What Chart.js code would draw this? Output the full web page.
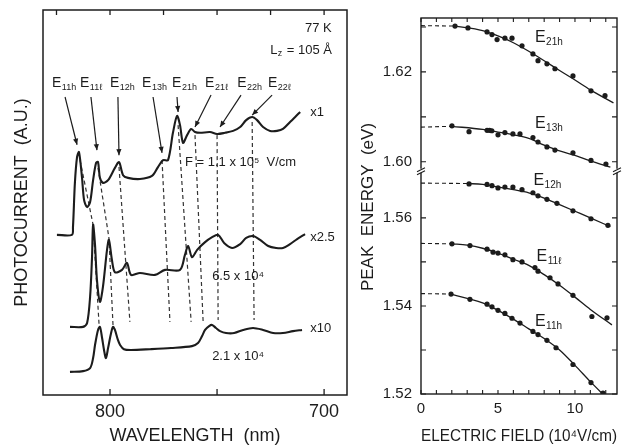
<!DOCTYPE html>
<html><head><meta charset="utf-8">
<script src="https://cdn.jsdelivr.net/npm/chart.js@4.4.0/dist/chart.umd.min.js"></script>
<style>
html,body{margin:0;padding:0;background:#fff;}
#wrap{position:relative;width:624px;height:447px;overflow:hidden;background:#fff;}
#c1{position:absolute;left:0;top:0;}
#c2{position:absolute;left:340px;top:0;}
</style></head><body>
<div id="wrap"><canvas id="c1" width="352" height="447"></canvas><canvas id="c2" width="284" height="447"></canvas></div>
<script>
// ---------- LEFT PANEL DATA (wavelength nm, photocurrent a.u.) ----------
const c1Wl = [824.8,817.8,817.3,816.4,815.4,814.5,813.1,812.1,810.7,809.3,807.9,806.5,805.6,804.7,803.3,800.9,797.7,795.8,793.9,791.6,786.0,780.4,777.6,775.2,772.9,770.6,768.7,767.3,765.9,764.0,762.1,760.3,757.9,753.3,750.0,746.3,742.5,739.2,736.4,733.6,731.3,728.5,725.2,722.0,719.2,715.9,713.5,711.2];
const c1Au = [41.6,41.6,43.6,55.1,61.8,63.1,56.6,50.6,48.8,50.1,55.8,60.3,60.5,56.4,55.1,55.8,59.0,60.5,57.1,56.4,56.1,56.9,59.2,61.0,61.0,68.1,72.5,70.1,65.5,67.5,69.1,68.3,68.1,68.3,67.8,68.1,68.6,69.6,71.4,72.2,71.4,69.6,68.6,68.6,69.1,70.9,72.2,73.5];
const c2Wl = [818.7,812.6,810.7,809.3,808.4,807.9,807.0,806.1,804.7,803.3,801.4,800.5,799.1,797.7,794.4,792.1,790.2,786.0,779.0,774.3,767.3,765.0,763.5,761.7,759.3,755.6,752.3,749.5,746.7,743.0,739.2,736.4,733.2,729.9,726.1,722.4,719.2,715.9,712.6,708.9];
const c2Au = [17.7,17.7,18.7,25.5,35.8,44.2,39.0,29.9,24.2,28.1,37.7,40.3,35.1,31.9,32.5,34.3,31.2,31.7,31.2,32.5,32.5,36.4,38.7,35.8,37.7,39.7,41.0,41.6,39.5,38.2,39.2,40.8,41.3,40.3,38.7,38.2,38.2,39.2,40.5,41.8];
const c3Wl = [818.7,812.6,809.3,807.9,807.0,805.6,804.7,803.7,802.8,801.9,800.9,799.5,798.6,797.7,796.3,795.3,793.5,790.2,781.3,771.5,761.7,758.9,757.0,755.6,753.7,752.3,750.5,748.6,745.8,742.0,737.8,733.2,728.5,723.8,719.2,714.5,710.3];
const c3Au = [6.0,6.2,7.0,9.6,13.0,16.9,17.7,14.8,11.7,9.6,12.2,16.1,17.7,16.9,14.3,13.0,11.9,11.7,11.9,12.2,12.7,13.5,15.3,16.9,17.9,18.2,17.4,16.6,16.1,16.1,16.9,17.4,16.9,16.1,16.1,16.6,16.9];

// dashed guide lines linking peaks (wavelength, a.u.)
const guideWl = [[814.0,807.9,805.1],[805.6,800.5,798.6],[795.8,790.7],[775.7,772.0],[768.2,762.1],[760.3,756.5],[750.0,749.5],[733.6,732.7]];
const guideAu = [[61.0,44.2,18.2],[59.0,40.8,18.2],[59.2,19.0],[61.0,19.0],[70.1,19.0],[67.5,19.0],[67.5,19.5],[70.9,19.5]];

// peak labels and arrows
const peakSubs  = ['11h','11ℓ','12h','13h','21h','21ℓ','22h','22ℓ'];
const peakLabWl = [827.1,814.0,800.0,785.0,771.0,755.6,740.6,726.2];
const peakLabAu = 81.0;
const arrowFromWl = [821.0,808.9,796.3,779.9,768.7,752.8,738.8,724.3];
const arrowFromAu = [77.4,77.4,77.4,77.4,77.4,77.9,77.9,77.9];
const arrowToWl   = [815.4,806.1,795.8,775.7,768.2,760.3,748.6,733.6];
const arrowToAu   = [65.0,63.6,62.3,62.9,73.5,69.6,69.6,72.7];

const waveTicks = [700,725,750,775,800,825];
const waveLabels = [700,800];
const waveBottomTicks = [700,750,800];

// ---------- RIGHT PANEL DATA (field 1e4 V/cm, peak energy eV) ----------
const e21hF = [2.21,3.05,4.29,4.61,4.94,5.45,5.91,6.56,7.27,7.60,8.18,8.70,9.87,11.04,11.95];
const e21hE = [1.6302,1.6298,1.6289,1.6283,1.6272,1.6275,1.6275,1.6258,1.6240,1.6225,1.6218,1.6207,1.6191,1.6158,1.6147];
const e13hF = [2.01,3.12,4.29,4.45,4.60,5.00,5.45,5.97,6.43,7.27,7.60,8.18,8.70,9.87,11.04,12.01];
const e13hE = [1.6080,1.6067,1.6070,1.6070,1.6069,1.6060,1.6065,1.6062,1.6062,1.6054,1.6044,1.6033,1.6026,1.6020,1.6003,1.5995];
const e12hF = [3.12,4.29,4.61,5.00,5.45,5.97,6.56,7.27,7.60,8.18,8.83,9.87,11.04,12.14];
const e12hE = [1.5677,1.5676,1.5673,1.5668,1.5670,1.5670,1.5664,1.5657,1.5650,1.5642,1.5633,1.5616,1.5598,1.5583];
const e11lF = [2.01,3.18,4.29,4.68,5.00,5.45,5.97,6.56,7.40,7.60,8.38,8.90,9.87,11.10,12.08];
const e11lE = [1.5541,1.5537,1.5529,1.5522,1.5520,1.5516,1.5505,1.5500,1.5487,1.5479,1.5464,1.5450,1.5424,1.5376,1.5373];
const e11hF = [1.95,3.18,4.29,4.61,5.00,5.45,5.91,6.43,7.27,7.60,8.18,8.77,9.87,11.04,11.82];
const e11hE = [1.5427,1.5415,1.5404,1.5398,1.5390,1.5383,1.5372,1.5361,1.5342,1.5335,1.5322,1.5305,1.5267,1.5226,1.5202];

// drawn fit curves (dashed extrapolation to zero field + solid fit)
const fit21hF = [2.2,4,5,6,7,8,9,10,11,12.5];
const fit21hE = [1.6302,1.6292,1.6280,1.6265,1.6246,1.6225,1.6203,1.6182,1.6160,1.6131];
const fit13hF = [2.0,4,5,6,7,8,9,10,11,12.3];
const fit13hE = [1.6079,1.6072,1.6066,1.6060,1.6052,1.6037,1.6024,1.6014,1.6002,1.5988];
const fit12hF = [3.0,4,5,6,7,8,9,10,11,12.3];
const fit12hE = [1.5678,1.5676,1.5670,1.5664,1.5657,1.5645,1.5630,1.5615,1.5600,1.5580];
const fit11lF = [2.0,3,4,5,6,7,8,9,10,11,12.4];
const fit11lE = [1.5541,1.5538,1.5531,1.5520,1.5506,1.5492,1.5471,1.5447,1.5420,1.5392,1.5357];
const fit11hF = [1.95,3,4,5,6,7,8,9,10,11,12.0];
const fit11hE = [1.5427,1.5417,1.5407,1.5390,1.5370,1.5348,1.5326,1.5300,1.5265,1.5228,1.5193];
const dash21h = [[0,2.2],[1.6303,1.6302]];
const dash13h = [[0,2.0],[1.6077,1.6079]];
const dash12h = [[0,3.0],[1.5679,1.5678]];
const dash11l = [[0,2.0],[1.5542,1.5541]];
const dash11h = [[0,1.95],[1.5428,1.5427]];

const fieldTicks = [0,1,2,3,4,5,6,7,8,9,10,11,12];
const fieldLabels = [0,5,10];
const lowTicks = [1.52,1.53,1.54,1.55,1.56];
const lowLabels = ['1.52','','1.54','','1.56'];
const highTicks = [1.60,1.61,1.62,1.63];
const highLabels = ['1.60','','1.62',''];

const rightLabSubs = ['21h','13h','12h','11ℓ','11h'];
const rightLabF = [7.4,7.4,7.3,7.5,7.4];
const rightLabE = [1.6276,1.6086,1.5684,1.5513,1.5364];
const rightLabAxis = ['yHigh','yHigh','yLow','yLow','yLow'];

// ---------- helpers ----------
const INK = '#1c1c1c';
const FONT = "'Liberation Sans', Arial, sans-serif";
const pts = (xs, ys) => xs.map((x, i) => ({x, y: ys[i]}));

function drawSub(ctx, x, y, main, sub, size, subSize) {
  ctx.textBaseline = 'middle';
  ctx.textAlign = 'left';
  ctx.font = size + 'px ' + FONT;
  ctx.fillText(main, x, y);
  const w = ctx.measureText(main).width;
  ctx.font = subSize + 'px ' + FONT;
  ctx.fillText(sub, x + w + 0.5, y + size * 0.3);
}

function tickMarks(ctx, scale, values, len, sideA, sideB, horizontal) {
  values.forEach(v => {
    const p = scale.getPixelForValue(v);
    ctx.beginPath();
    if (horizontal) {
      if (sideA !== null) { ctx.moveTo(p, sideA); ctx.lineTo(p, sideA - len); }
      if (sideB !== null) { ctx.moveTo(p, sideB); ctx.lineTo(p, sideB + len); }
    } else {
      if (sideA !== null) { ctx.moveTo(sideA, p); ctx.lineTo(sideA + len, p); }
      if (sideB !== null) { ctx.moveTo(sideB, p); ctx.lineTo(sideB - len, p); }
    }
    ctx.stroke();
  });
}

// ---------- LEFT CHART ----------
const leftDeco = {
  id: 'leftDeco',
  afterDatasetsDraw(chart) {
    const {ctx, chartArea: a, scales: {x, y}} = chart;
    ctx.save();
    ctx.strokeStyle = INK; ctx.fillStyle = INK; ctx.lineWidth = 1.5;
    ctx.strokeRect(a.left, a.top, a.right - a.left, a.bottom - a.top);
    ctx.lineWidth = 1.3;
    tickMarks(ctx, x, waveBottomTicks, 6, a.bottom, null, true);
    tickMarks(ctx, x, waveTicks, 5, null, a.top, true);
    // arrows
    ctx.lineWidth = 1.2;
    arrowFromWl.forEach((w, i) => {
      const x0 = x.getPixelForValue(w), y0 = y.getPixelForValue(arrowFromAu[i]);
      const x1 = x.getPixelForValue(arrowToWl[i]), y1 = y.getPixelForValue(arrowToAu[i]);
      ctx.beginPath(); ctx.moveTo(x0, y0); ctx.lineTo(x1, y1); ctx.stroke();
      const ang = Math.atan2(y1 - y0, x1 - x0), L = 6, W = 2.6;
      ctx.beginPath();
      ctx.moveTo(x1, y1);
      ctx.lineTo(x1 - L * Math.cos(ang) + W * Math.sin(ang), y1 - L * Math.sin(ang) - W * Math.cos(ang));
      ctx.lineTo(x1 - L * Math.cos(ang) - W * Math.sin(ang), y1 - L * Math.sin(ang) + W * Math.cos(ang));
      ctx.closePath(); ctx.fill();
    });
    // peak labels
    peakSubs.forEach((s, i) => {
      drawSub(ctx, x.getPixelForValue(peakLabWl[i]), y.getPixelForValue(peakLabAu), 'E', s, 14, 9);
    });
    // texts
    ctx.textBaseline = 'middle'; ctx.textAlign = 'left';
    ctx.font = '13px ' + FONT;
    ctx.fillText('x1', x.getPixelForValue(706.5), y.getPixelForValue(73.5));
    ctx.fillText('x2.5', x.getPixelForValue(706.5), y.getPixelForValue(41.0));
    ctx.fillText('x10', x.getPixelForValue(706.5), y.getPixelForValue(17.4));
    ctx.fillText('F = 1.1 x 10⁵  V/cm', x.getPixelForValue(765.0), y.getPixelForValue(60.3));
    ctx.fillText('6.5 x 10⁴', x.getPixelForValue(752.3), y.getPixelForValue(30.9));
    ctx.fillText('2.1 x 10⁴', x.getPixelForValue(752.3), y.getPixelForValue(9.9));
    ctx.fillText('77 K', x.getPixelForValue(708.9), y.getPixelForValue(95.3));
    drawSub(ctx, x.getPixelForValue(725.2), y.getPixelForValue(89.6), 'L', 'z', 13, 9);
    ctx.font = '13px ' + FONT;
    ctx.fillText(' = 105 Å', x.getPixelForValue(725.2) + 13, y.getPixelForValue(89.6));
    ctx.restore();
  }
};

const curveStyle = {borderColor: INK, borderWidth: 2.1, pointRadius: 0, tension: 0.3, fill: false};
const leftSets = [
  Object.assign({data: pts(c1Wl, c1Au)}, curveStyle),
  Object.assign({data: pts(c2Wl, c2Au)}, curveStyle),
  Object.assign({data: pts(c3Wl, c3Au)}, curveStyle)
];
guideWl.forEach((g, i) => leftSets.push({
  data: pts(g, guideAu[i]), borderColor: '#333', borderWidth: 1.2, borderDash: [4, 3],
  pointRadius: 0, tension: 0, fill: false
}));

new Chart(document.getElementById('c1'), {
  type: 'line',
  data: {datasets: leftSets},
  options: {
    responsive: false, animation: false, devicePixelRatio: 1,
    layout: {padding: {top: 10, right: 5, left: 0, bottom: 0}},
    plugins: {legend: {display: false}, tooltip: {enabled: false}},
    scales: {
      x: {
        type: 'linear', reverse: true, min: 689.3, max: 831.3,
        grid: {display: false, drawTicks: false}, border: {display: false},
        afterBuildTicks: s => { s.ticks = waveTicks.map(v => ({value: v})); },
        afterFit: s => { s.height = 52; },
        ticks: {autoSkip: false, maxRotation: 0, padding: 6, color: INK, font: {family: FONT, size: 18},
          callback: v => waveLabels.includes(v) ? String(v) : ''},
        title: {display: true, text: 'WAVELENGTH  (nm)', color: INK, font: {family: FONT, size: 18}, padding: {top: 0, bottom: 0}}
      },
      y: {
        type: 'linear', min: 0, max: 100,
        grid: {display: false, drawTicks: false}, border: {display: false},
        ticks: {display: false},
        afterFit: s => { s.width = 43; },
        title: {display: true, text: 'PHOTOCURRENT  (A.U.)', color: INK, font: {family: FONT, size: 18}, padding: {top: 11, bottom: 0}}
      }
    }
  },
  plugins: [leftDeco]
});

// ---------- RIGHT CHART ----------
const rightDeco = {
  id: 'rightDeco',
  afterDatasetsDraw(chart) {
    const {ctx, chartArea: a, scales} = chart;
    const x = scales.x, yl = scales.yLow, yh = scales.yHigh;
    ctx.save();
    ctx.strokeStyle = INK; ctx.fillStyle = INK; ctx.lineWidth = 1.4;
    ctx.strokeRect(a.left, a.top, a.right - a.left, a.bottom - a.top);
    ctx.lineWidth = 1.1;
    tickMarks(ctx, x, fieldTicks, 4, a.bottom, a.top, true);
    tickMarks(ctx, yl, lowTicks, 5, a.left, a.right, false);
    tickMarks(ctx, yh, highTicks, 5, a.left, a.right, false);
    // axis break marks
    const yb = yl.top;
    [a.left, a.right].forEach(xx => {
      ctx.fillStyle = '#fff';
      ctx.fillRect(xx - 3, yb - 2, 6, 4);
      ctx.fillStyle = INK;
      ctx.beginPath();
      ctx.moveTo(xx - 4, yb + 1); ctx.lineTo(xx + 4, yb - 3);
      ctx.moveTo(xx - 4, yb + 4); ctx.lineTo(xx + 4, yb);
      ctx.stroke();
    });
    // curve labels
    rightLabSubs.forEach((s, i) => {
      const sc = rightLabAxis[i] === 'yHigh' ? yh : yl;
      drawSub(ctx, x.getPixelForValue(rightLabF[i]), sc.getPixelForValue(rightLabE[i]), 'E', s, 16, 10);
    });
    // y-axis title (spans both stacked axes)
    ctx.save();
    ctx.translate(28, 207);
    ctx.rotate(-Math.PI / 2);
    ctx.textAlign = 'center'; ctx.textBaseline = 'middle';
    ctx.font = '17px ' + FONT;
    ctx.fillText('PEAK  ENERGY  (eV)', 0, 0);
    ctx.restore();
    ctx.restore();
  }
};

const rightSets = [];
function addSeries(dash, fitF, fitE, pF, pE, axis) {
  rightSets.push({type: 'line', data: pts(dash[0], dash[1]), yAxisID: axis, borderColor: INK, borderWidth: 1.1,
    borderDash: [4, 3], pointRadius: 0, tension: 0, fill: false});
  rightSets.push({type: 'line', data: pts(fitF, fitE), yAxisID: axis, borderColor: INK, borderWidth: 1.3,
    pointRadius: 0, tension: 0.4, cubicInterpolationMode: 'monotone', fill: false});
  rightSets.push({type: 'line', data: pts(pF, pE), yAxisID: axis, showLine: false, pointRadius: 2.6,
    pointBackgroundColor: INK, pointBorderColor: INK, pointBorderWidth: 0});
}
addSeries(dash21h, fit21hF, fit21hE, e21hF, e21hE, 'yHigh');
addSeries(dash13h, fit13hF, fit13hE, e13hF, e13hE, 'yHigh');
addSeries(dash12h, fit12hF, fit12hE, e12hF, e12hE, 'yLow');
addSeries(dash11l, fit11lF, fit11lE, e11lF, e11lE, 'yLow');
addSeries(dash11h, fit11hF, fit11hE, e11hF, e11hE, 'yLow');

const yTickFont = {family: FONT, size: 15};
new Chart(document.getElementById('c2'), {
  type: 'line',
  data: {datasets: rightSets},
  options: {
    responsive: false, animation: false, devicePixelRatio: 1,
    layout: {padding: {top: 10, right: 7, left: 0, bottom: 0}},
    plugins: {legend: {display: false}, tooltip: {enabled: false}},
    scales: {
      x: {
        type: 'linear', min: 0, max: 12.73,
        grid: {display: false, drawTicks: false}, border: {display: false},
        afterBuildTicks: s => { s.ticks = fieldTicks.map(v => ({value: v})); },
        afterFit: s => { s.height = 53; },
        ticks: {autoSkip: false, maxRotation: 0, padding: 6, color: INK, font: {family: FONT, size: 15},
          callback: v => fieldLabels.includes(v) ? String(v) : ''},
        title: {display: true, text: 'ELECTRIC FIELD (10⁴V/cm)', color: INK, font: {family: FONT, size: 16}, padding: {top: 0, bottom: 1}}
      },
      yLow: {
        type: 'linear', position: 'left', stack: 'energy', stackWeight: 228, min: 1.52, max: 1.5707,
        grid: {display: false, drawTicks: false}, border: {display: false},
        afterBuildTicks: s => { s.ticks = lowTicks.map(v => ({value: v})); },
        afterFit: s => { s.width = 81; },
        ticks: {autoSkip: false, padding: 9, color: INK, font: yTickFont, callback: (v, i) => lowLabels[i]}
      },
      yHigh: {
        type: 'linear', position: 'left', stack: 'energy', stackWeight: 156, min: 1.5980, max: 1.632,
        grid: {display: false, drawTicks: false}, border: {display: false},
        afterBuildTicks: s => { s.ticks = highTicks.map(v => ({value: v})); },
        afterFit: s => { s.width = 81; },
        ticks: {autoSkip: false, padding: 9, color: INK, font: yTickFont, callback: (v, i) => highLabels[i]}
      }
    }
  },
  plugins: [rightDeco]
});
</script>
</body></html>
